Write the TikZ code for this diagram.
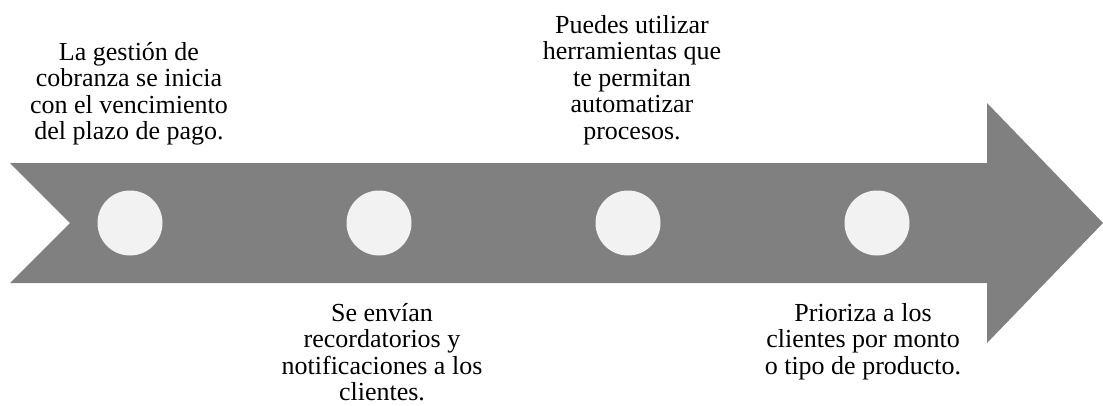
\documentclass[tikz,border=0pt]{standalone}
\usepackage{fontspec}
\setmainfont{Liberation Serif}
\definecolor{arrowgray}{HTML}{808080}
\definecolor{dotgray}{HTML}{F2F2F2}
\tikzset{
  dot/.style={circle,fill=dotgray,minimum size=65pt,inner sep=0pt},
  note/.style={align=center,inner sep=0pt,font=\fontsize{26}{26.5}\selectfont}
}
\begin{document}
\begin{tikzpicture}[x=1pt,y=-1pt]
    \useasboundingbox (0,0) rectangle (1103,405);
    \fill[arrowgray] (10,163) -- (987,163) -- (987,103) -- (1103,223) -- (987,343) -- (987,283) -- (10,283) -- (70,223) -- cycle;
    \path (130,223) node(d1)[dot] {};
    \path (379,223) node(d2)[dot] {};
    \path (628,223) node(d3)[dot] {};
    \path (877,223) node(d4)[dot] {};
    \path (129,42) node(t1)[note,anchor=north] {La gestión de\\cobranza se inicia\\con el vencimiento\\del plazo de pago.};
    \path (382,303) node(t2)[note,anchor=north] {Se envían\\recordatorios y\\notificaciones a los\\clientes.};
    \path (632,15) node(t3)[note,anchor=north] {Puedes utilizar\\herramientas que\\te permitan\\automatizar\\procesos.};
    \path (863,303) node(t4)[note,anchor=north] {Prioriza a los\\clientes por monto\\o tipo de producto.};
\end{tikzpicture}
\end{document}
